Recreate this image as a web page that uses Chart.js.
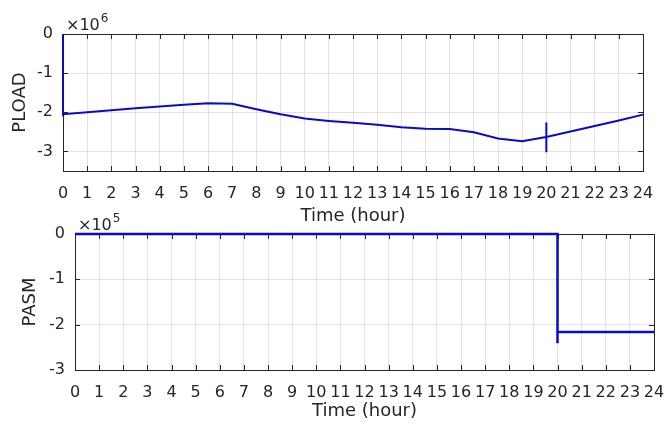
<!DOCTYPE html>
<html>
<head>
<meta charset="utf-8">
<script src="https://cdn.jsdelivr.net/npm/chart.js@4/dist/chart.umd.min.js"></script>
<style>
body{margin:0;background:#fff;width:664px;height:424px;overflow:hidden;position:relative}
canvas{position:absolute;left:0}
#ploadChart{top:0}
#pasmChart{top:205px}
</style>
</head>
<body>
<canvas id="ploadChart" width="664" height="230"></canvas>
<canvas id="pasmChart" width="664" height="219"></canvas>
<script>
// values are in axis units: PLOAD x1e6, PASM x1e5
const hours = [0,1,2,3,4,5,6,7,8,9,10,11,12,13,14,15,16,17,18,19,20,21,22,23,24];
const pload = [-2.05,-2.00,-1.95,-1.90,-1.85,-1.81,-1.77,-1.78,-1.92,-2.05,-2.16,-2.22,-2.27,-2.32,-2.38,-2.42,-2.43,-2.51,-2.67,-2.74,-2.63,-2.49,-2.35,-2.21,-2.06];
const ploadStart = [0, -2.1];       // jump at t=0
const ploadSpike = [-2.26, -3.02];  // spike at t=20
const pasmTimes = [0, 20, 20, 20, 24];
const pasm = [0, 0, -2.41, -2.16, -2.16];
const ploadTicks = [-3, -2, -1, 0];
const pasmTicks = [-3, -2, -1, 0];

const lineColor = "#0a0ac8";
const textColor = "#262626";
const gridColor = "#e2e2e2";

let ploadPoints = ploadStart.map(v => ({x: 0, y: v}));
hours.forEach((h, i) => {
  ploadPoints.push({x: h, y: pload[i]});
  if (h === 20) {
    ploadSpike.forEach(v => ploadPoints.push({x: 20, y: v}));
    ploadPoints.push({x: 20, y: pload[i]});
  }
});
const pasmPoints = pasmTimes.map((t, i) => ({x: t, y: pasm[i]}));

// matlab style box, inner ticks and the x10^n label
const matlabBox = {
  id: "matlabBox",
  beforeDatasetsDraw(chart) {
    const {ctx, chartArea: a, scales} = chart;
    ctx.save();
    ctx.strokeStyle = textColor;
    ctx.lineWidth = 1;
    ctx.beginPath();
    scales.x.ticks.forEach(t => {
      const px = Math.round(scales.x.getPixelForValue(t.value)) + 0.5;
      ctx.moveTo(px, a.bottom); ctx.lineTo(px, a.bottom - 5);
      ctx.moveTo(px, a.top); ctx.lineTo(px, a.top + 5);
    });
    scales.y.ticks.forEach(t => {
      const py = Math.round(scales.y.getPixelForValue(t.value)) + 0.5;
      ctx.moveTo(a.left, py); ctx.lineTo(a.left + 5, py);
      ctx.moveTo(a.right, py); ctx.lineTo(a.right - 5, py);
    });
    ctx.stroke();
    ctx.strokeRect(Math.round(a.left) + 0.5, Math.round(a.top) + 0.5, Math.round(a.right - a.left), Math.round(a.bottom - a.top));
    ctx.restore();
  },
  afterDraw(chart, args, opts) {
    const {ctx, chartArea: a} = chart;
    ctx.save();
    ctx.fillStyle = textColor;
    ctx.textBaseline = "alphabetic";
    ctx.font = "16px 'DejaVu Sans'";
    const base = "\u00d710";
    const x0 = a.left + 3;
    const y0 = a.top - 4;
    ctx.fillText(base, x0, y0);
    const w = ctx.measureText(base).width;
    ctx.font = "12px 'DejaVu Sans'";
    ctx.fillText(opts.exponent, x0 + w + 1, y0 - 8);
    ctx.restore();
  }
};

function makeOptions(cfg) {
  return {
    responsive: false,
    animation: false,
    layout: {padding: {left: 0, top: cfg.top, right: cfg.right, bottom: 0}},
    plugins: {
      legend: {display: false},
      tooltip: {enabled: false},
      matlabBox: {exponent: cfg.exponent}
    },
    scales: {
      x: {
        type: "linear",
        min: 0,
        max: 24,
        afterBuildTicks: s => { s.ticks = hours.map(h => ({value: h})); },
        afterFit: s => { s.height = cfg.xHeight; s.paddingLeft = 0; s.paddingRight = 0; },
        grid: {color: gridColor, drawTicks: false},
        border: {display: false},
        ticks: {color: textColor, font: {family: "DejaVu Sans", size: 16}, padding: cfg.xPad, autoSkip: false, maxRotation: 0},
        title: {display: true, text: "Time (hour)", color: textColor, font: {family: "DejaVu Sans", size: 18}, padding: {top: 0, bottom: cfg.xTitlePad}}
      },
      y: {
        min: cfg.ymin,
        max: 0,
        afterBuildTicks: s => { s.ticks = cfg.yTicks.map(v => ({value: v})); },
        afterFit: s => { s.width = cfg.yWidth; s.paddingTop = 0; s.paddingBottom = 0; },
        grid: {color: gridColor, drawTicks: false},
        border: {display: false},
        ticks: {color: textColor, font: {family: "DejaVu Sans", size: 16}, padding: 10},
        title: {display: true, text: cfg.yTitle, color: textColor, font: {family: "DejaVu Sans", size: 18}, padding: {top: cfg.yTitlePad, bottom: 0}}
      }
    }
  };
}

new Chart(document.getElementById("ploadChart").getContext("2d"), {
  type: "line",
  data: {
    datasets: [{
      data: ploadPoints,
      borderColor: lineColor,
      borderWidth: 2,
      pointRadius: 0,
      tension: 0,
      clip: 4
    }]
  },
  options: makeOptions({top: 34, right: 21, xHeight: 59, yWidth: 63, ymin: -3.5, yTicks: ploadTicks, yTitle: "PLOAD", yTitlePad: 10, xPad: 13, xTitlePad: 3, exponent: "6"}),
  plugins: [matlabBox]
});

new Chart(document.getElementById("pasmChart").getContext("2d"), {
  type: "line",
  data: {
    datasets: [{
      data: pasmPoints,
      borderColor: lineColor,
      borderWidth: 2.5,
      pointRadius: 0,
      tension: 0,
      clip: 4
    }]
  },
  options: makeOptions({top: 29, right: 10, xHeight: 54, yWidth: 75, ymin: -3, yTicks: pasmTicks, yTitle: "PASM", yTitlePad: 20, xPad: 13, xTitlePad: 2, exponent: "5"}),
  plugins: [matlabBox]
});
</script>
</body>
</html>
